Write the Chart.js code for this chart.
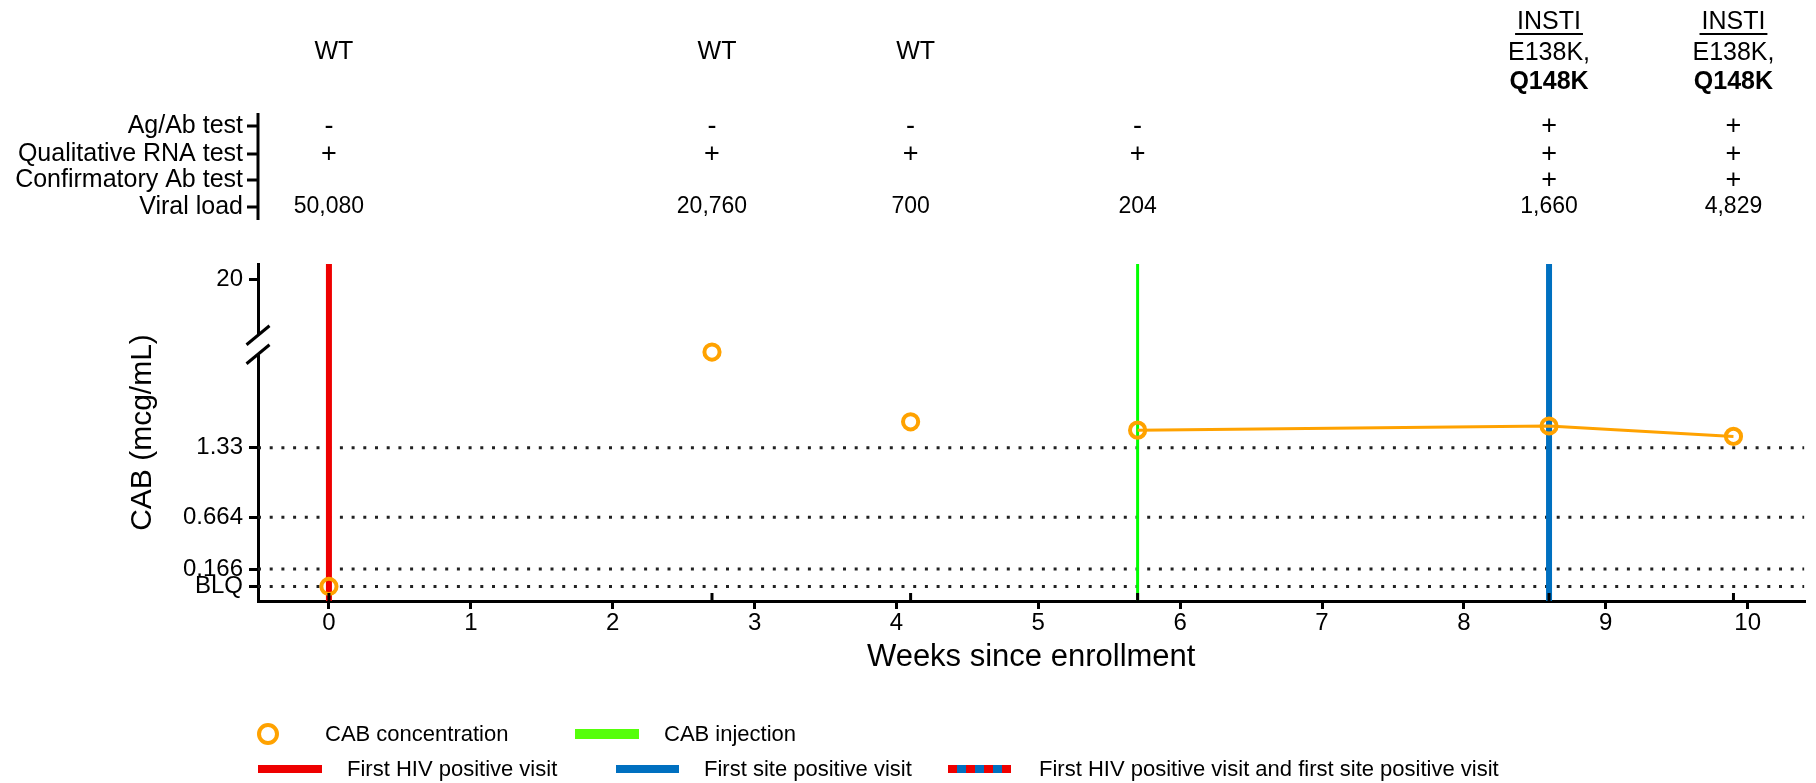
<!DOCTYPE html>
<html>
<head>
<meta charset="utf-8">
<title>CAB concentration and HIV test results by visit</title>
<script src="https://cdn.jsdelivr.net/npm/chart.js@4.4.1/dist/chart.umd.min.js"></script>
<style>
  html, body { margin: 0; padding: 0; background: #fff; }
  #wrap { position: relative; width: 1816px; height: 783px; font-family: "Liberation Sans", Arial, Helvetica, sans-serif; color: #000; }
  #c { position: absolute; left: 0; top: 0; }
  .sw { position: absolute; }
  .lt { position: absolute; font-size: 22px; line-height: 26px; white-space: nowrap; }
</style>
</head>
<body>
<div id="wrap">
  <canvas id="c" width="1816" height="783"></canvas>

  <!-- legend -->
  <div class="sw" style="left:257px; top:723px; width:14px; height:14px; border:4px solid #FFA200; border-radius:50%;"></div>
  <div class="lt" style="left:325px; top:721px;">CAB concentration</div>
  <div class="sw" style="left:575px; top:729px; width:64px; height:10px; background:#55FF0A;"></div>
  <div class="lt" style="left:664px; top:721px;">CAB injection</div>

  <div class="sw" style="left:258px; top:765px; width:64px; height:8px; background:#EE0000;"></div>
  <div class="lt" style="left:347px; top:756px;">First HIV positive visit</div>
  <div class="sw" style="left:616px; top:765px; width:63px; height:8px; background:#0070C0;"></div>
  <div class="lt" style="left:704px; top:756px;">First site positive visit</div>
  <div class="sw" style="left:948px; top:765px; width:63px; height:8px; background:repeating-linear-gradient(90deg, #EE0000 0 9px, #0070C0 9px 18px);"></div>
  <div class="lt" style="left:1039px; top:756px;">First HIV positive visit and first site positive visit</div>
</div>

<script>
// Visit schedule (weeks since enrollment) and CAB concentration at each visit (0 = BLQ)
const visitWeeks = [0, 2.7, 4.1, 5.7, 8.6, 9.9];
const cabConcentration = [0, 2.25, 1.58, 1.50, 1.54, 1.44];

// Genotype results per visit
const genotype = ['WT', 'WT', 'WT', '', '', ''];
const resistanceClass = ['', '', '', '', 'INSTI', 'INSTI'];
const minorMutations = ['', '', '', '', 'E138K,', 'E138K,'];
const majorMutations = ['', '', '', '', 'Q148K', 'Q148K'];

// HIV test results per visit
const testRowLabels = ['Ag/Ab test', 'Qualitative RNA test', 'Confirmatory Ab test', 'Viral load'];
const agAbTest = ['-', '-', '-', '-', '+', '+'];
const rnaTest = ['+', '+', '+', '+', '+', '+'];
const confirmatoryAbTest = ['', '', '', '', '+', '+'];
const viralLoad = ['50,080', '20,760', '700', '204', '1,660', '4,829'];

// Event weeks
const firstHivPositiveWeek = 0;
const cabInjectionWeek = 5.7;
const firstSitePositiveWeek = 8.6;

// Axes (the CAB axis is broken above 1.33; "20" sits above the break)
const xTickValues = [0, 1, 2, 3, 4, 5, 6, 7, 8, 9, 10];
const yTickValues = [0, 0.166, 0.664, 1.33, 2.95];
const yTickLabels = ['BLQ', '0.166', '0.664', '1.33', '20'];
const thresholdLevels = [0, 0.166, 0.664, 1.33];
const axisBreakLevel = 2.32;

const X_MIN = -0.5, X_MAX = 10.4;
const Y_MIN = -0.14, Y_MAX = 3.095;

const FONT = '"Liberation Sans", Arial, Helvetica, sans-serif';
const ORANGE = '#FFA200';

const points = visitWeeks.map((w, i) => ({ x: w, y: cabConcentration[i] }));
const postInjection = points.filter(p => p.x >= cabInjectionWeek);

function eventLine(week, color, width) {
  return {
    data: [{ x: week, y: Y_MIN }, { x: week, y: Y_MAX }],
    showLine: true, borderColor: color, borderWidth: width,
    pointRadius: 0, order: 2
  };
}

function thresholdLine(level) {
  return {
    data: [{ x: X_MIN, y: level }, { x: X_MAX, y: level }],
    showLine: true, borderColor: '#222', borderWidth: 3,
    borderDash: [3, 8.7], pointRadius: 0, order: 3
  };
}

const datasets = [
  {
    label: 'CAB concentration',
    data: points, showLine: false,
    pointRadius: 7.6, pointBorderWidth: 4,
    pointBorderColor: ORANGE, pointBackgroundColor: 'rgba(0,0,0,0)',
    order: 0
  },
  {
    label: 'CAB concentration (post-injection)',
    data: postInjection, showLine: true,
    borderColor: ORANGE, borderWidth: 3, pointRadius: 0,
    order: 1
  },
  eventLine(firstHivPositiveWeek, '#EE0000', 6),
  eventLine(cabInjectionWeek, '#00FF00', 3),
  eventLine(firstSitePositiveWeek, '#0070C0', 6),
  ...thresholdLevels.map(thresholdLine)
];

// Test table, genotypes, axis break and visit ticks
const visitAnnotations = {
  id: 'visitAnnotations',
  afterDraw(chart) {
    const { ctx, chartArea } = chart;
    const x = chart.scales.x, y = chart.scales.y;
    const left = chartArea.left;
    ctx.save();

    // axis break on the CAB axis
    const yb = y.getPixelForValue(axisBreakLevel);
    ctx.fillStyle = '#fff';
    ctx.fillRect(left - 3, yb - 9.5, 6, 19);
    ctx.strokeStyle = '#000';
    ctx.lineWidth = 3;
    [yb - 9.5, yb + 9.5].forEach(cy => {
      ctx.beginPath();
      ctx.moveTo(left - 11.5, cy + 9.5);
      ctx.lineTo(left + 11.5, cy - 9.5);
      ctx.stroke();
    });

    // small ticks at each sampling visit
    visitWeeks.forEach(w => {
      const px = x.getPixelForValue(w);
      ctx.beginPath();
      ctx.moveTo(px, chartArea.bottom);
      ctx.lineTo(px, chartArea.bottom - 8);
      ctx.stroke();
    });

    // test result rows
    const rowY = [126, 154, 180, 207];
    ctx.beginPath();
    ctx.moveTo(left, 113);
    ctx.lineTo(left, 220);
    ctx.stroke();
    ctx.fillStyle = '#000';
    ctx.textBaseline = 'middle';
    testRowLabels.forEach((label, i) => {
      ctx.beginPath();
      ctx.moveTo(left - 11, rowY[i]);
      ctx.lineTo(left, rowY[i]);
      ctx.stroke();
      ctx.font = `25px ${FONT}`;
      ctx.textAlign = 'right';
      ctx.fillText(label, left - 15, rowY[i]);
    });

    const rows = [agAbTest, rnaTest, confirmatoryAbTest];
    ctx.textAlign = 'center';
    visitWeeks.forEach((w, i) => {
      const px = x.getPixelForValue(w);
      ctx.font = `27px ${FONT}`;
      rows.forEach((r, k) => { if (r[i]) ctx.fillText(r[i], px, rowY[k] + 1); });
      ctx.font = `23px ${FONT}`;
      ctx.fillText(viralLoad[i], px, rowY[3]);

      // genotype
      ctx.font = `25px ${FONT}`;
      if (genotype[i]) ctx.fillText(genotype[i], px + 5, 52);
      if (resistanceClass[i]) {
        ctx.fillText(resistanceClass[i], px, 22);
        const tw = ctx.measureText(resistanceClass[i]).width;
        ctx.fillRect(px - tw / 2 - 2, 33, tw + 4, 2);
      }
      if (minorMutations[i]) ctx.fillText(minorMutations[i], px, 53);
      if (majorMutations[i]) {
        ctx.font = `bold 25px ${FONT}`;
        ctx.fillText(majorMutations[i], px, 82);
      }
    });
    ctx.restore();
  }
};

new Chart(document.getElementById('c'), {
  type: 'scatter',
  data: { datasets },
  options: {
    responsive: false,
    animation: false,
    devicePixelRatio: 1,
    layout: { padding: { top: 264, right: 8, bottom: 0, left: 0 } },
    plugins: { legend: { display: false }, tooltip: { enabled: false } },
    scales: {
      x: {
        type: 'linear', min: X_MIN, max: X_MAX,
        afterBuildTicks: s => { s.ticks = xTickValues.map(v => ({ value: v })); },
        afterFit: s => { s.height = 182; },
        grid: { drawOnChartArea: false, drawTicks: true, tickLength: 8, color: '#000', lineWidth: 3 },
        border: { color: '#000', width: 3 },
        ticks: { color: '#000', font: { family: FONT, size: 24 }, padding: 0, maxRotation: 0 },
        title: {
          display: true, text: 'Weeks since enrollment', color: '#000',
          font: { family: FONT, size: 31 }, padding: { top: 0, bottom: 107 }
        }
      },
      y: {
        type: 'linear', min: Y_MIN, max: Y_MAX,
        afterBuildTicks: s => { s.ticks = yTickValues.map(v => ({ value: v })); },
        afterFit: s => { s.width = 258; },
        grid: { drawOnChartArea: false, drawTicks: true, tickLength: 9, color: '#000', lineWidth: 3 },
        border: { color: '#000', width: 3 },
        ticks: {
          color: '#000', font: { family: FONT, size: 24 }, padding: 6,
          callback: v => yTickLabels[yTickValues.indexOf(v)]
        },
        title: {
          display: true, text: 'CAB (mcg/mL)', color: '#000',
          font: { family: FONT, size: 30 }, padding: { top: 125, bottom: 0 }
        }
      }
    }
  },
  plugins: [visitAnnotations]
});
</script>
</body>
</html>
